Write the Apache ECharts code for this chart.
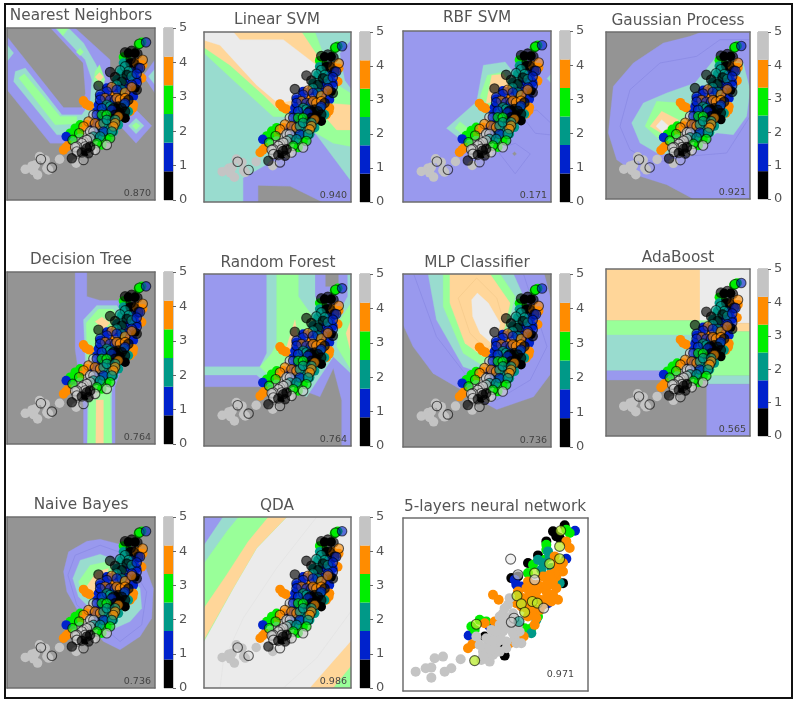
<!DOCTYPE html>
<html><head><meta charset="utf-8">
<style>html,body{margin:0;padding:0;background:#fff}#chart{width:800px;height:704px;filter:blur(0.55px)}</style>
<script src="https://cdn.jsdelivr.net/npm/echarts@6/dist/echarts.min.js"></script>
</head><body><div id="chart"></div>
<script>
// class / contour levels 0..5
const classColors = ['#000000','#0022cc','#009988','#00ee00','#ff8c00','#c4c4c4'];
const testColors  = ['rgba(0,0,0,.62)','rgba(0,34,204,.62)','rgba(0,153,136,.62)','rgba(0,238,0,.62)','rgba(255,140,0,.62)','rgba(205,205,205,.66)','rgba(196,196,196,.22)','rgba(185,235,40,.72)'];
const fillColors  = ['#949494','#9999ee','#99dccf','#99ff99','#ffd699','#ebebeb'];
const lineColors  = ['#888888','#8a8ae4','#8ad0c2','#8af28a','#f5ca8c','#e3e3e3'];
const colorbarBands = [0.8333,0.8333,0.8334,0.8333,0.8333,0.8334];
const colorbarTicks = [0,1,2,3,4,5];

const titles = ['Nearest Neighbors','Linear SVM','RBF SVM','Gaussian Process','Decision Tree','Random Forest','MLP Classifier','AdaBoost','Naive Bayes','QDA','5-layers neural network'];
const scores = ['0.870','0.940','0.171','0.921','0.764','0.764','0.736','0.565','0.736','0.986','0.971'];

// training points [x, y, class]
const trainPoints = [
[75,508,5],[95,498,5],[105,495,5],[112,525,5],[140,505,5],[135,480,5],[178,478,5],[228,490,5],[145,510,5],[118,470,5],[100,512,5],
[250,303,4],[258,313,4],[268,318,4],[190,450,4],[205,435,4],[198,442,4],
[380,180,3],[370,172,3],[415,135,3],[425,128,3],[225,385,3],[240,375,3],[210,400,3],[228,400,3],[235,385,3],
[198,410,1],[428,195,4],[398,325,4],[390,335,4],[425,235,4],[285,435,4],
[385,160,0],[405,160,0],[370,190,2],[390,190,0],[410,190,4],[365,215,2],[385,215,2],[405,215,1],
[350,240,2],[370,240,2],[390,240,1],[410,240,1],[320,265,1],[340,265,1],[360,265,1],[385,265,1],[405,265,0],
[300,290,1],[320,290,1],[340,290,4],[360,290,4],[380,290,4],[400,290,1],[295,315,1],[315,315,2],[340,315,2],[360,315,0],[385,315,2],[400,315,4],
[290,335,1],[310,335,2],[330,335,2],[350,335,0],[370,335,0],[385,335,2],[275,355,5],[295,355,1],[315,355,2],[335,355,0],[355,355,2],[375,355,0],
[260,375,4],[280,375,1],[300,375,1],[320,375,2],[340,375,2],[355,375,2],[245,395,4],[265,395,5],[285,395,1],[305,395,2],[325,395,2],[340,395,2],
[240,415,5],[260,415,5],[280,415,0],[300,415,2],[320,415,3],[225,435,5],[245,435,5],[265,435,0],[285,435,5],[305,435,3],[235,455,5],[255,455,0],[275,455,5]
];
// test points [x, y, class]
const testPoints = [
[122,478,6],[155,503,6],
[418,132,3],[375,158,0],[395,153,0],[412,162,0],[438,128,1],[392,178,0],[400,190,0],[428,180,4],[375,200,2],[415,205,0],[385,215,2],[360,212,2],[420,205,1],
[330,217,0],[345,232,0],[380,225,0],[395,230,2],[365,245,0],[410,222,1],[295,258,0],[350,255,2],[410,250,1],[395,255,1],
[335,262,4],[380,270,1],[365,270,2],[350,270,1],[320,275,1],[300,285,1],[410,270,0],[375,278,4],[395,262,4],
[315,295,4],[300,300,1],[330,300,1],[345,300,1],[350,295,4],[360,300,4],[375,295,4],[385,300,0],
[320,315,2],[330,320,2],[355,320,0],[372,315,2],[375,310,1],[340,325,0],[365,325,0],[305,325,1],[335,330,1],[375,335,0],[360,340,0],[345,345,0],
[280,345,5],[290,345,1],[305,345,3],[320,345,3],[355,350,4],[265,365,4],[285,370,4],[300,375,4],[310,370,2],[320,360,2],[345,360,2],[345,370,4],[340,380,4],
[250,380,4],[310,395,1],[335,395,2],[285,400,1],[270,395,5],[280,395,5],[237,400,3],[217,420,3],[280,410,2],[300,410,2],[270,415,5],[330,415,3],
[250,425,5],[260,420,5],[245,430,5],[290,430,3],[255,440,5],[230,440,5],[225,442,5],[285,450,5],[260,445,0],[270,440,0],[230,455,5],[245,458,0],[265,460,0],[320,435,5],[215,475,0],[250,480,6]
];
// 5-layers network panel
const nnTrainPoints = [
[48,560,5],[78,550,5],[95,548,5],[95,578,5],[135,560,5],[155,550,5],[105,520,5],[130,515,5],[183,523,5],
[470,155,0],[440,170,0],[385,235,0],[335,280,0],[355,275,0],[490,295,0],[460,140,0],[495,122,0],[480,160,0],[415,212,0],[315,512,0],[255,455,0],[310,480,0],
[526,138,1],[500,222,1],[207,452,1],[350,300,1],[365,305,1],[345,285,1],[270,425,1],[445,355,1],
[240,405,3],[215,425,3],[225,435,3],[395,430,3],[440,180,3],[500,135,3],[510,145,3],[260,410,3],[415,395,3],[385,265,3],[435,225,3],[375,430,3],[440,195,3],[400,240,3],
[415,225,2],[430,235,2],[450,215,2],[425,255,2],[480,295,2],[410,405,2],[395,445,2],[445,200,2],[455,250,2],
[280,330,4],[297,345,4],[205,490,4],[218,478,4],[255,415,4],[285,410,4],[330,475,4],[372,455,4],
[370,340,4],[390,325,4],[410,320,4],[430,310,4],[450,300,4],[470,310,4],[460,330,4],[440,340,4],[420,345,4],[395,345,4],[370,350,4],[350,355,4],[400,370,4],[410,400,4],[470,275,4],[485,255,4],[510,190,4],[490,260,4],[465,265,4],[445,285,4],[465,215,4],[355,320,4],[475,345,4],[415,300,4],[430,275,4],
[380,310,4],[400,300,4],[440,320,4],[380,370,4],[420,375,4],[385,395,4],[405,420,4],[455,350,4],[490,235,4],[500,170,4],[430,360,4],[460,290,4],[385,290,4],[410,340,4],[365,365,4],[395,385,4],[440,300,4],[475,240,4],[450,270,4],[360,335,4],
[245,525,5],[270,530,5],[250,500,5],[280,510,5],[300,500,5],[265,480,5],[290,475,5],[320,470,5],[345,460,5],[365,475,5],[310,440,5],[335,430,5],[280,450,5],[300,420,5],[320,400,5],[340,385,5],[325,360,5],[330,340,5],[360,440,5],[345,410,5],[230,455,5],
[260,460,5],[240,480,5],[300,450,5],[320,430,5],[290,500,5],[340,445,5],[355,420,5],[300,395,5],[275,435,5],[310,385,5],[260,505,5],[320,490,5],[290,440,5],[305,465,5],[275,495,5],[340,410,5],[325,415,5],[280,470,5],[250,515,5],[315,370,5],[350,475,5]
];
const nnTestPoints = [
[483,138,7],[480,185,7],[480,222,7],[450,237,7],[405,265,7],[355,270,5],[405,285,5],[352,333,7],[365,357,7],[398,350,7],[413,355,7],[432,370,5],[375,382,7],[343,400,5],[358,410,2],[335,412,5],[230,418,7],[225,527,7],[333,223,6]
];

// decision regions: [level, polygon, contour line]
const nnRegions = [
[1,[[20,110],[20,270],[150,430],[215,430],[330,300],[330,180],[225,85],[150,85]]],
[2,[[165,85],[205,85],[250,130],[285,190],[310,240],[330,300],[290,360],[220,405],[170,405],[40,245],[45,215],[75,205],[185,345],[245,345],[270,310],[275,240],[255,180]]],
[3,[[55,235],[72,222],[180,350],[230,350],[230,372],[165,375]]],
[3,[[285,215],[298,195],[315,240],[300,265],[280,245]]],
[3,[[240,145],[250,157],[240,168],[228,157]]],
[3,[[170,85],[205,85],[188,108]]],
[4,[[285,232],[298,218],[310,232],[298,245]]],
[0,[[20,85],[150,85],[248,190],[255,280],[245,322],[190,322],[20,110]]],
[1,[[408,330],[455,378],[408,430],[360,378]]],
[2,[[408,355],[432,378],[408,402],[385,378]]],
[3,[[408,368],[420,378],[408,390],[396,378]]],
[1,[[465,180],[430,228],[465,280]]],
[2,[[465,208],[445,230],[465,255]]],
[2,[[20,135],[40,160],[20,185]]]
];
const svmRegions = [
[1,[[730,607],[730,535],[800,495],[860,430],[945,400],[1053,545],[1053,607]]],
[0,[[775,607],[775,558],[870,560],[965,607]]],
[3,[[612,135],[612,158],[700,240],[820,350],[930,350],[960,250],[975,175],[945,95],[612,95]]],
[4,[[612,120],[612,142],[690,195],[790,285],[830,325],[930,330],[960,230],[965,185],[905,95],[700,95]]],
[5,[[612,95],[700,95],[720,118],[850,118],[950,195],[950,240],[880,300],[835,310],[770,255],[660,135],[612,120]]],
[3,[[975,230],[1053,280],[1053,440],[1000,430],[940,395],[960,330]]],
[4,[[1000,310],[1053,315],[1053,390],[1010,390],[975,350]]],
[1,[[1053,120],[1020,160],[1035,240],[1053,265]]]
];
const rbfRegions = [
[1,[[345,430],[390,462],[345,522],[290,450]],1],
[1,[[410,330],[452,370],[452,405],[405,400],[360,340]],1],
[2,[[140,385],[230,305],[250,195],[315,185],[350,230],[340,350],[240,430],[185,420]]],
[3,[[165,385],[180,365],[205,385],[190,405]]],
[3,[[240,290],[262,225],[310,215],[330,245],[300,300],[270,320]]],
[4,[[258,310],[275,225],[310,222],[325,255],[295,300]]],
[2,[[452,222],[440,235],[452,248]]],
[0,[[343,456],[349,462],[343,468],[337,462]]]
];
const gpRegions = [
[1,[[905,97],[1050,97],[1050,598],[880,598],[800,555],[720,530],[650,480],[625,400],[640,260],[700,190],[790,130],[870,110]]],
[1,[[660,380],[690,270],[780,190],[890,170],[960,120],[1050,120],[1050,350],[980,460],[860,470],[760,490],[690,450]],1],
[2,[[695,370],[730,310],[800,280],[885,250],[950,170],[1030,190],[1050,270],[1040,350],[1000,405],[950,400],[880,450],[780,465],[720,430]]],
[3,[[735,380],[770,305],[840,310],[870,350],[840,400],[790,430]]],
[4,[[750,380],[785,335],[835,360],[800,410]]],
[5,[[768,380],[785,360],[805,378],[790,400]]]
];
const dtRegions = [
[1,[[225,97],[260,97],[260,170],[300,182],[370,182],[420,240],[345,440],[345,612],[250,612],[250,500],[225,330]]],
[2,[[250,240],[290,197],[350,197],[400,260],[335,450],[335,612],[262,612],[262,500]]],
[3,[[258,250],[295,208],[340,208],[370,270],[330,470],[335,612],[262,612],[265,500]]],
[4,[[287,612],[288,480],[310,480],[310,612]]],
[4,[[285,245],[305,232],[330,250],[310,270]]]
];
const rfRegions = [
[1,[[612,103],[1053,103],[1053,617],[1025,617],[1025,480],[1000,385],[960,470],[880,440],[612,440]]],
[0,[[977,103],[1015,103],[1015,140],[977,140]]],
[2,[[612,380],[780,380],[800,340],[800,103],[945,103],[945,170],[1000,250],[1000,320],[1053,375],[1053,400],[1000,350],[920,470],[800,430],[770,405],[612,405]]],
[3,[[830,103],[895,103],[895,170],[945,240],[970,330],[880,450],[800,400],[780,380],[815,340],[830,310]]],
[4,[[860,320],[885,240],[895,300],[880,400]]],
[2,[[1043,103],[1053,103],[1053,400],[1000,330],[1010,230],[1043,170]]],
[3,[[1053,190],[1020,240],[1010,320],[1053,390]]],
[4,[[1053,240],[1038,280],[1053,340]]]
];
const mlpRegions = [
[1,[[10,103],[432,103],[452,180],[452,400],[400,470],[290,508],[220,470],[100,400],[40,320],[10,255]]],
[1,[[42,103],[110,290],[210,420],[290,480],[390,420],[440,320],[370,103]],1],
[2,[[85,103],[340,103],[370,170],[330,330],[250,400],[190,380],[110,240]]],
[3,[[130,103],[300,103],[345,170],[300,340],[245,375],[190,340],[130,200]]],
[4,[[150,103],[270,103],[330,190],[300,320],[250,350],[195,310],[150,190]]],
[4,[[175,175],[230,115],[290,175],[315,260],[260,330],[210,280]],1],
[5,[[215,180],[232,160],[265,190],[300,250],[285,320],[240,280],[218,230]]]
];
const adaRegions = [
[4,[[618,88],[900,88],[900,242],[618,242]]],
[5,[[900,88],[1050,88],[1050,250],[900,250]]],
[4,[[985,250],[1050,250],[1050,275],[985,275]]],
[3,[[618,242],[985,242],[985,275],[1050,275],[1050,407],[940,407],[940,420],[880,420],[880,285],[618,285]]],
[2,[[618,285],[880,285],[880,392],[618,392]]],
[1,[[618,392],[920,392],[920,420],[618,420]]],
[2,[[920,420],[940,407],[1050,407],[1050,432],[920,432]]],
[1,[[920,432],[1050,432],[1050,587],[920,587]]]
];
const nbRegions = [
[1,[[190,260],[205,200],[260,168],[300,162],[390,185],[430,230],[460,310],[455,400],[420,455],[360,495],[310,470],[240,390],[200,320]]],
[1,[[203,270],[225,210],[300,180],[370,205],[440,320],[425,420],[360,470],[230,360]],1],
[2,[[218,280],[240,225],[300,207],[360,230],[420,310],[425,370],[390,410],[345,430],[280,380],[235,335]]],
[3,[[235,290],[270,240],[320,230],[390,310],[395,350],[345,400],[290,370],[245,320]]],
[4,[[255,310],[290,260],[325,250],[310,300],[280,340]]]
];
const qdaRegions = [
[5,[[660,610],[670,530],[730,400],[830,250],[950,97],[1053,97],[1053,380],[950,520],[850,610]],1],
[3,[[612,470],[700,310],[770,190],[860,97],[612,97]]],
[4,[[612,465],[700,310],[770,190],[860,97],[805,97],[745,170],[680,270],[612,370]]],
[2,[[612,235],[680,140],[715,97],[612,97]]],
[1,[[612,97],[668,97],[612,180]]],
[4,[[930,610],[1000,530],[1053,470],[1053,610]]],
[3,[[1000,610],[1053,545],[1053,610]]]
];
const panelRegions = [nnRegions,svmRegions,rbfRegions,gpRegions,dtRegions,rfRegions,mlpRegions,adaRegions,nbRegions,qdaRegions,[]];
const baseLevels = [0,2,1,0,0,0,0,0,0,5,null];

// layout: plot rect, colorbar rect, region extents, title centre
const layout = [
 {r:[7,28,148,172],c:[164,9],e:[20,465,85,600],t:[81,15]},
 {r:[204,32,147,170],c:[360,10],e:[612,1053,95,607],t:[277,19]},
 {r:[403,31,148,171],c:[560,10],e:[10,452,92,607],t:[477,17]},
 {r:[606,32,144,167],c:[758,10],e:[618,1050,97,598],t:[678,20]},
 {r:[7,272,148,172],c:[164,9],e:[20,465,97,612],t:[81,259]},
 {r:[204,274,147,172],c:[360,10],e:[612,1053,103,617],t:[278,262]},
 {r:[403,274,148,173],c:[560,10],e:[10,452,103,620],t:[477,262]},
 {r:[606,269,144,167],c:[758,10],e:[618,1050,88,587],t:[678,257]},
 {r:[7,517,148,171],c:[164,9],e:[20,465,95,610],t:[81,504]},
 {r:[204,517,147,171],c:[360,10],e:[612,1053,97,610],t:[277,505]},
 {r:[403,518,185,173],c:null,e:[10,565,100,618],t:[495,506]}
];
const pointsExtent = [20,465,85,600];
const textColor = '#555';

const grid=[],xAxis=[],yAxis=[],series=[],title=[];
function frameAxis(extra){return Object.assign({type:'value',axisLine:{show:true,onZero:false,lineStyle:{color:'#6e6e6e',width:1.5}},axisTick:{show:false},axisLabel:{show:false},splitLine:{show:false},z:6},extra);}

layout.forEach((L,i)=>{
  const g=grid.length;
  const [rx,ry,rw,rh]=L.r;
  grid.push({left:rx,top:ry,width:rw,height:rh,show:baseLevels[i]!==null,backgroundColor:baseLevels[i]===null?'#fff':fillColors[baseLevels[i]],borderWidth:0});
  const isNN=i===10;
  const pe=isNN?L.e:pointsExtent;
  const xa=xAxis.length, ya=yAxis.length;
  xAxis.push(frameAxis({gridIndex:g,position:'bottom',min:L.e[0],max:L.e[1]}));
  xAxis.push(frameAxis({gridIndex:g,position:'top',min:pe[0],max:pe[1]}));
  yAxis.push(frameAxis({gridIndex:g,position:'left',inverse:true,min:L.e[2],max:L.e[3]}));
  yAxis.push(frameAxis({gridIndex:g,position:'right',inverse:true,min:pe[2],max:pe[3]}));
  const regs=panelRegions[i];
  if(regs.length){
    series.push({type:'custom',xAxisIndex:xa,yAxisIndex:ya,coordinateSystem:'cartesian2d',clip:true,silent:true,z:1,animation:false,
      data:regs.map((r,k)=>[L.e[0],L.e[2],k]),
      renderItem:(p,api)=>{
        const r=regs[p.dataIndex];
        return {type:'polygon',shape:{points:r[1].map(q=>api.coord(q))},
          style:{fill:fillColors[r[0]],stroke:r[2]?lineColors[r[0]]:fillColors[r[0]],lineWidth:r[2]?0.8:0.3}};
      }});
  }
  const tr=isNN?nnTrainPoints:trainPoints, te=isNN?nnTestPoints:testPoints;
  const size=isNN?10:9.5;
  series.push({type:'scatter',xAxisIndex:xa+1,yAxisIndex:ya+1,data:tr,symbolSize:size,z:3,silent:true,animation:false,
    itemStyle:{color:p=>classColors[p.data[2]],opacity:1,borderWidth:0}});
  series.push({type:'scatter',xAxisIndex:xa+1,yAxisIndex:ya+1,data:te,symbolSize:size,z:4,silent:true,animation:false,
    itemStyle:{color:p=>testColors[p.data[2]],opacity:1,borderColor:'rgba(0,0,0,.62)',borderWidth:1.1}});
  title.push({text:titles[i],padding:0,left:L.t[0],top:L.t[1]-6,textAlign:'center',textStyle:{fontFamily:'DejaVu Sans',fontSize:15.3,fontWeight:'normal',color:textColor}});
  title.push({text:scores[i],padding:0,left:isNN?rx+rw-14:rx+rw-4,top:isNN?670:ry+rh-11,textAlign:'right',textStyle:{fontFamily:'DejaVu Sans',fontSize:9.5,fontWeight:'normal',color:'#444'}});
  if(L.c){
    const cg=grid.length;
    grid.push({left:L.c[0],top:ry,width:L.c[1],height:rh,show:true,borderColor:'#999',borderWidth:1,backgroundColor:'#fff'});
    const cx=xAxis.length, cy=yAxis.length;
    xAxis.push({type:'category',gridIndex:cg,data:['c'],show:false});
    yAxis.push({type:'value',gridIndex:cg,position:'right',min:colorbarTicks[0],max:colorbarTicks[5],interval:1,
      axisLine:{show:false},axisTick:{show:true,length:3,lineStyle:{color:'#666',width:1}},splitLine:{show:false},
      axisLabel:{margin:6,fontFamily:'DejaVu Sans',fontSize:13,color:textColor}});
    colorbarBands.forEach((b,k)=>series.push({type:'bar',xAxisIndex:cx,yAxisIndex:cy,stack:'cb'+i,data:[b],barWidth:'100%',silent:true,animation:false,itemStyle:{color:classColors[k]}}));
  }
});

const chart=echarts.init(document.getElementById('chart'),null,{renderer:'canvas'});
chart.setOption({animation:false,backgroundColor:'#fff',tooltip:{show:false},grid,xAxis,yAxis,series,title,
  graphic:[{type:'rect',z:100,silent:true,shape:{x:5,y:4,width:787,height:694},style:{fill:'none',stroke:'#111',lineWidth:2}}]});
</script></body></html>
